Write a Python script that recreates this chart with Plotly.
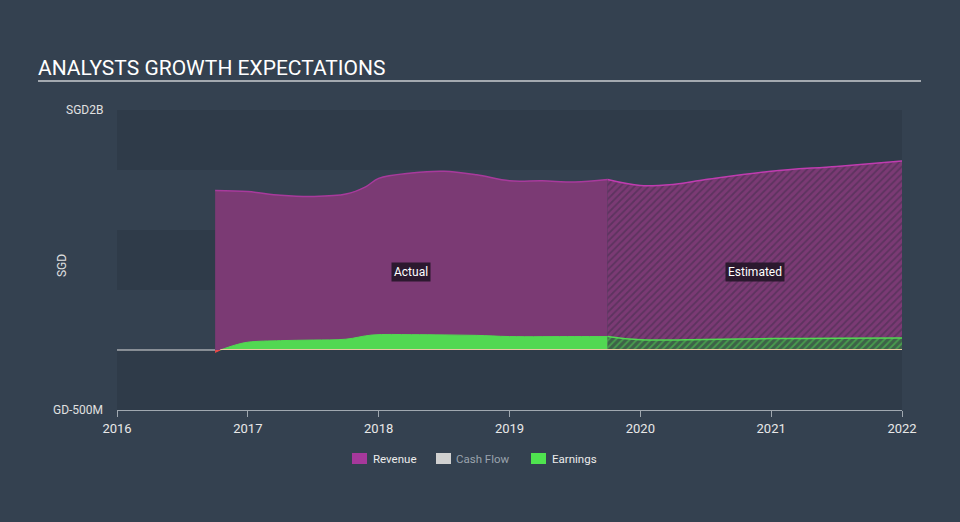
import plotly.graph_objects as go

# ---- data (SGD billions) ----
rev_act_x = [2016.75, 2017.0, 2017.25, 2017.5, 2017.75, 2017.9, 2018.0, 2018.25, 2018.5, 2018.75, 2019.0, 2019.25, 2019.5, 2019.75]
rev_act_y = [1.33, 1.32, 1.29, 1.28, 1.30, 1.36, 1.43, 1.475, 1.49, 1.46, 1.41, 1.41, 1.40, 1.42]
rev_est_x = [2019.75, 2020.0, 2020.25, 2020.5, 2021.0, 2021.5, 2022.0]
rev_est_y = [1.42, 1.37, 1.38, 1.42, 1.49, 1.53, 1.575]

earn_neg_x = [2016.75, 2016.79]
earn_neg_y = [-0.02, 0.0]
earn_act_x = [2016.79, 2016.9, 2017.0, 2017.25, 2017.5, 2017.75, 2017.95, 2018.25, 2018.5, 2018.75, 2019.0, 2019.5, 2019.75]
earn_act_y = [0.0, 0.04, 0.065, 0.078, 0.083, 0.09, 0.125, 0.128, 0.126, 0.122, 0.112, 0.112, 0.112]
earn_est_x = [2019.75, 2020.0, 2020.5, 2021.0, 2021.5, 2022.0]
earn_est_y = [0.112, 0.085, 0.088, 0.095, 0.098, 0.10]

cash_x = [2016.79, 2022.0]
cash_y = [0.004, 0.004]

x_ticks = [2016, 2017, 2018, 2019, 2020, 2021, 2022]
y_ticks = [2.0, -0.5]
y_tick_labels = ["SGD2B", "GD-500M"]
legend_names = ["Revenue", "Cash Flow", "Earnings"]
legend_colors = ["#a6389b", "#d0d0d0", "#4fe34f"]
legend_text_colors = ["#ececec", "#9aa3ad", "#ececec"]

PAPER = "#344150"
DARK = "#2f3b49"
REV_FILL = "#7b3a74"
REV_LINE = "#a83a9c"
GREEN = "#52d852"

W, H = 960, 522
L, R, T, B = 117, 58, 110, 112
PW, PH = W - L - R, H - T - B


def px(x):
    return (x - L) / PW


def py(y):
    return (H - B - y) / PH


fig = go.Figure()

# background bands
for y0 in [1.5, 0.5, -0.5]:
    fig.add_shape(type="rect", xref="paper", yref="y", x0=0, x1=1, y0=y0, y1=y0 + 0.5,
                  fillcolor=DARK, line_width=0, layer="below")

fig.add_trace(go.Scatter(x=rev_act_x, y=rev_act_y, mode="lines", fill="tozeroy",
                         fillcolor=REV_FILL, line=dict(color=REV_LINE, width=1.5, shape="spline"),
                         showlegend=False, hoverinfo="skip"))
fig.add_trace(go.Scatter(x=rev_est_x, y=rev_est_y, mode="lines", fill="tozeroy",
                         fillcolor=REV_FILL,
                         fillpattern=dict(shape="/", bgcolor=REV_FILL, fgcolor="#3f2c4a", size=5, solidity=0.35),
                         line=dict(color="#c03cb0", width=1.5, shape="spline"),
                         showlegend=False, hoverinfo="skip"))
fig.add_trace(go.Scatter(x=earn_neg_x, y=earn_neg_y, mode="lines", fill="tozeroy",
                         fillcolor="#e84848", line=dict(color="#e84848", width=1),
                         showlegend=False, hoverinfo="skip"))
fig.add_trace(go.Scatter(x=earn_act_x, y=earn_act_y, mode="lines", fill="tozeroy",
                         fillcolor=GREEN, line=dict(color=GREEN, width=1, shape="spline"),
                         showlegend=False, hoverinfo="skip"))
fig.add_trace(go.Scatter(x=earn_est_x, y=earn_est_y, mode="lines", fill="tozeroy",
                         fillcolor=GREEN,
                         fillpattern=dict(shape="/", bgcolor="#3d6248", fgcolor=GREEN, size=5, solidity=0.35),
                         line=dict(color=GREEN, width=1.5, shape="spline"),
                         showlegend=False, hoverinfo="skip"))
fig.add_trace(go.Scatter(x=cash_x, y=cash_y, mode="lines",
                         line=dict(color="#e8c9a0", width=1.2), showlegend=False, hoverinfo="skip"))

# zero line
fig.add_shape(type="line", xref="paper", yref="y", x0=0, x1=px(215), y0=0, y1=0,
              line=dict(color="#dddddd", width=1.2))

# manual legend
leg_sw_x = [352, 436, 531]
leg_tx_x = [373, 456, 552]
for n, c, tc, sx, tx in zip(legend_names, legend_colors, legend_text_colors, leg_sw_x, leg_tx_x):
    fig.add_shape(type="rect", xref="paper", yref="paper", x0=px(sx), x1=px(sx + 15),
                  y0=py(464), y1=py(453), fillcolor=c, line_width=0)
    fig.add_annotation(xref="paper", yref="paper", x=px(tx - 2), y=py(458.5), xanchor="left",
                       yanchor="middle", text=n, showarrow=False,
                       font=dict(color=tc, size=11.5, family="Roboto"))

fig.add_annotation(x=2018.25, y=0.65, text="Actual", showarrow=False,
                   font=dict(color="#ffffff", size=12, family="Roboto"),
                   bgcolor="rgba(35,22,40,0.9)", borderpad=2)
fig.add_annotation(x=2020.88, y=0.65, text="Estimated", showarrow=False,
                   font=dict(color="#ffffff", size=12, family="Roboto"),
                   bgcolor="rgba(35,22,40,0.9)", borderpad=2)

# title
fig.add_annotation(xref="paper", yref="paper", x=px(36), y=py(68), xanchor="left", yanchor="middle",
                   text="ANALYSTS GROWTH EXPECTATIONS", showarrow=False,
                   font=dict(color="#ffffff", size=21, family="Roboto"))
fig.add_shape(type="line", xref="paper", yref="paper", x0=px(38), x1=px(921), y0=py(81), y1=py(81),
              line=dict(color="#c8ccd0", width=1.5))

# y tick labels as annotations (right aligned)
for v, t in zip(y_ticks, y_tick_labels):
    fig.add_annotation(xref="paper", yref="y", x=px(105), y=v, xanchor="right", yanchor="middle",
                       text=t, showarrow=False, font=dict(color="#e0e0e0", size=12, family="Roboto"))
fig.add_annotation(xref="paper", yref="paper", x=px(62), y=py(266), xanchor="center", yanchor="middle",
                   text="SGD", textangle=-90,
                   showarrow=False, font=dict(color="#e0e0e0", size=12, family="Roboto"))

fig.update_layout(
    width=W, height=H,
    margin=dict(l=L, r=R, t=T, b=B),
    paper_bgcolor=PAPER, plot_bgcolor=PAPER,
    font=dict(family="Roboto", color="#e0e0e0", size=12),
    showlegend=False,
    xaxis=dict(range=[2016, 2022], tickvals=x_ticks, ticktext=[str(v) for v in x_ticks],
               showgrid=False, zeroline=False, showline=True, linecolor="#a0a8b0", linewidth=1,
               ticks="outside", ticklen=6, tickcolor="#a0a8b0",
               tickfont=dict(size=13, color="#e8e8e8")),
    yaxis=dict(range=[-0.5, 2.0], showgrid=False, zeroline=False, showticklabels=False, ticks=""),
)

fig.write_html("out.html")
